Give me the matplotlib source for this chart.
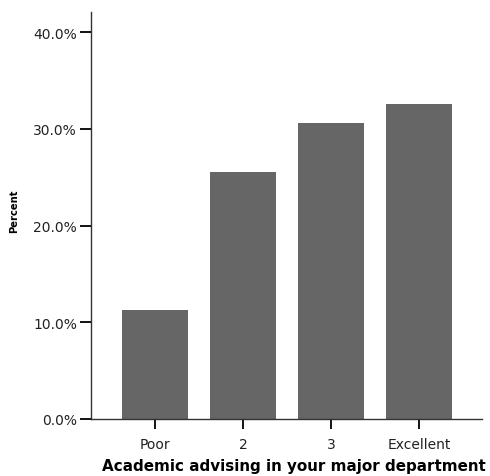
import matplotlib
matplotlib.use("Agg")
import matplotlib.pyplot as plt
from matplotlib.ticker import FuncFormatter

categories = ["Poor", "2", "3", "Excellent"]
percents = [11.3, 25.5, 30.6, 32.6]
yticks = [0, 10, 20, 30, 40]

plt.rcParams['font.family'] = ['DejaVu Sans']

W, H = 490, 477
fig = plt.figure(figsize=(W / 100, H / 100), dpi=100)
ax = fig.add_axes([91 / W, (H - 420) / H, (482 - 91) / W, (420 - 12.7) / H])

x = list(range(len(categories)))
ax.bar(x, percents, width=0.75, color="#666666", zorder=2)

ax.set_xlim(-0.727, 3.716)
ax.set_ylim(0, 42.1)
ax.set_yticks(yticks)
ax.yaxis.set_major_formatter(FuncFormatter(lambda v, p: f"{v:.1f}%"))
ax.set_xticks(x)
ax.set_xticklabels(categories)

for s in ["top", "right"]:
    ax.spines[s].set_visible(False)
for s in ["left", "bottom"]:
    ax.spines[s].set_color("#333333")
    ax.spines[s].set_linewidth(1.0)

ax.tick_params(axis="y", length=8, width=1.4, color="#111111", pad=2, labelsize=10, labelcolor="#222222")
ax.tick_params(axis="x", length=7, width=1.4, color="#111111", pad=6, labelsize=10, labelcolor="#222222")

ax.set_xlabel("Academic advising in your major department", fontsize=10.9, fontweight="bold")
ax.xaxis.set_label_coords((294 - 91) / 391, -(471.5 - 420) / 407.3)
ax.xaxis.label.set_va("baseline")
ax.set_ylabel("Percent", fontsize=7.2, fontweight="bold")
ax.yaxis.set_label_coords(-(91 - 19) / 391, (420 - 211.5) / 407.3)

fig.savefig("out.png", dpi=100)
